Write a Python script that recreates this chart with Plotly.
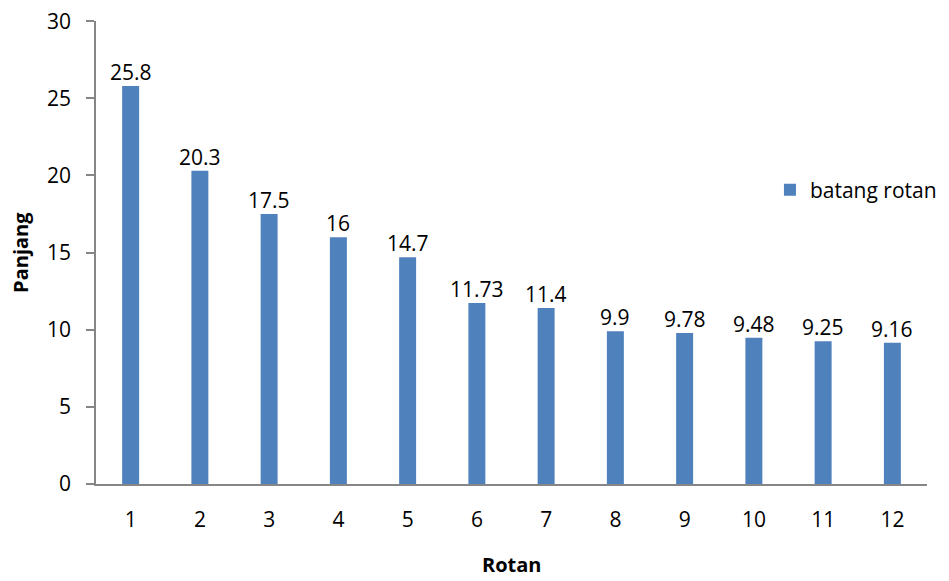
import plotly.graph_objects as go

categories = ["1", "2", "3", "4", "5", "6", "7", "8", "9", "10", "11", "12"]
values = [25.8, 20.3, 17.5, 16, 14.7, 11.73, 11.4, 9.9, 9.78, 9.48, 9.25, 9.16]
labels = ["25.8", "20.3", "17.5", "16", "14.7", "11.73", "11.4", "9.9", "9.78", "9.48", "9.25", "9.16"]
y_ticks = [0, 5, 10, 15, 20, 25, 30]
series_name = "batang rotan"
x_title = "Rotan"
y_title = "Panjang"

FONT = "Open Sans"
AXIS_COLOR = "#868686"

fig = go.Figure()
fig.add_trace(go.Bar(
    x=categories, y=values, name=series_name,
    marker=dict(color="#4F81BD", line=dict(width=0)),
    cliponaxis=False,
    showlegend=True,
))

# data labels placed at each bar's value through the axis scales
for idx, (val, lab) in enumerate(zip(values, labels)):
    fig.add_annotation(
        x=idx, y=val, xref="x", yref="y", text=lab, showarrow=False,
        yanchor="bottom", xanchor="center", yshift=-2,
        font=dict(family=FONT, size=21, color="#000000"),
    )

# axis titles
fig.add_annotation(
    x=0.5, y=-0.174, xref="paper", yref="paper", text=f"<b>{x_title}</b>",
    showarrow=False, xanchor="center", yanchor="middle", borderpad=0,
    font=dict(family=FONT, size=20, color="#000000"),
)
fig.add_annotation(
    x=-0.091, y=0.5, xref="paper", yref="paper", text=f"<b>{y_title}</b>",
    showarrow=False, xanchor="center", yanchor="middle", textangle=-90,
    font=dict(family=FONT, size=20, color="#000000"),
)

# page body has an 8px default margin, so the figure is sized 8px smaller
fig.update_layout(
    width=941, height=573,
    margin=dict(l=88, r=22, t=13, b=97, autoexpand=False),
    paper_bgcolor="white", plot_bgcolor="white",
    bargap=0.755,
    font=dict(family=FONT, size=21, color="#000000"),
    showlegend=True,
    legend=dict(x=0.811, y=0.635, xanchor="left", yanchor="middle",
                font=dict(family=FONT, size=21, color="#000000"),
                bgcolor="rgba(0,0,0,0)"),
    xaxis=dict(
        type="category", range=[-0.5, 11.5], automargin=False,
        showline=True, linecolor=AXIS_COLOR, linewidth=1.5,
        ticks="", showgrid=False, zeroline=False,
        ticklabelstandoff=16, ticklabeloverflow="allow",
        tickfont=dict(family=FONT, size=21, color="#000000"),
    ),
    yaxis=dict(
        range=[0, 30.01], tickvals=y_ticks, automargin=False,
        showline=True, linecolor=AXIS_COLOR, linewidth=1.5,
        ticks="outside", ticklen=8, tickcolor=AXIS_COLOR, tickwidth=1.5,
        showgrid=False, zeroline=False,
        ticklabelstandoff=11, ticklabeloverflow="allow",
        tickfont=dict(family=FONT, size=21, color="#000000"),
    ),
)

fig.write_html("out.html")
